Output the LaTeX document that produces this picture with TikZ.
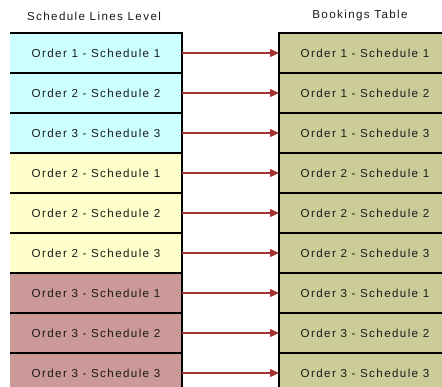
\documentclass[tikz,border=0pt]{standalone}
\usepackage{fontspec}
\setmainfont{Liberation Sans}[LetterSpace=12]
\usetikzlibrary{arrows.meta}
\definecolor{cyanbox}{HTML}{CCFFFF}
\definecolor{yellowbox}{HTML}{FFFFCC}
\definecolor{rosebox}{HTML}{CC9999}
\definecolor{khakibox}{HTML}{CCCC99}
\definecolor{arrowred}{HTML}{A33333}
\definecolor{txt}{HTML}{1A1A1A}
\tikzset{
  cell/.style={minimum width=172pt, minimum height=40pt, inner sep=0pt, outer sep=0pt, text=txt, font=\fontsize{11.6}{13}\selectfont},
  border/.style={line width=1.5pt, black},
  link/.style={arrowred, line width=1.1pt, -{Triangle[length=9pt,width=8pt]}},
  head/.style={text=txt, font=\fontsize{11.6}{13}\selectfont, inner sep=0pt}
}
\begin{document}
\begin{tikzpicture}[x=1pt,y=-1pt]
\useasboundingbox (0,0) rectangle (442,387);
\clip (0,0) rectangle (442,387);
\fill[white] (0,0) rectangle (442,387);
\node[head] (hl) at (94,16) {Schedule Lines Level};
\node[head] (hr) at (360,16) {Bookings Table};
\foreach \i/\lt/\lc/\rt in {1/Order 1 - Schedule 1/cyanbox/Order 1 - Schedule 1,
                            2/Order 2 - Schedule 2/cyanbox/Order 1 - Schedule 2,
                            3/Order 3 - Schedule 3/cyanbox/Order 1 - Schedule 3,
                            4/Order 2 - Schedule 1/yellowbox/Order 2 - Schedule 1,
                            5/Order 2 - Schedule 2/yellowbox/Order 2 - Schedule 2,
                            6/Order 2 - Schedule 3/yellowbox/Order 2 - Schedule 3,
                            7/Order 3 - Schedule 1/rosebox/Order 3 - Schedule 1,
                            8/Order 3 - Schedule 2/rosebox/Order 3 - Schedule 2,
                            9/Order 3 - Schedule 3/rosebox/Order 3 - Schedule 3}{
  \node[cell, fill=\lc] (l\i) at (96, 13+40*\i) {\lt};
  \node[cell, fill=khakibox] (r\i) at (365, 13+40*\i) {\rt};
  \draw[border] (l\i.north west) -- (l\i.north east) -- (l\i.south east);
  \draw[border] (r\i.north east) -- (r\i.north west) -- (r\i.south west);
  \draw[link] (l\i.east) -- (r\i.west);
}
\end{tikzpicture}
\end{document}
